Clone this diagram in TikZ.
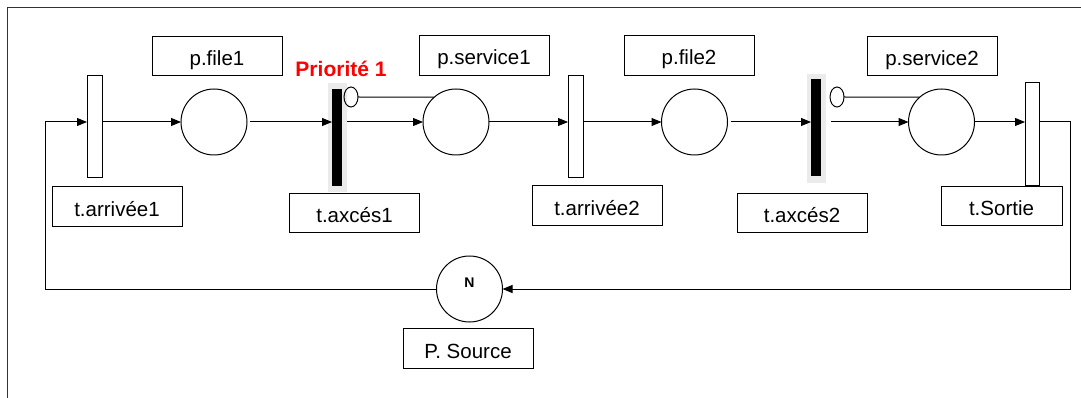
\documentclass[tikz,border=0pt]{standalone}
\usepackage{fontspec}
\setmainfont{Liberation Sans}
\usetikzlibrary{arrows.meta,shapes.geometric}
\begin{document}
\begin{tikzpicture}[x=1pt,y=-1pt,
  line width=1pt,
  every node/.style={inner sep=0pt, outer sep=0pt},
  lbl/.style={draw, rectangle, minimum width=130pt, minimum height=39.5pt,
    font=\fontsize{20.5}{24}\selectfont, text height=19pt, text depth=0pt},
  place/.style={draw, circle, minimum size=66pt},
  trans/.style={draw, fill=white, rectangle, minimum width=15pt, minimum height=102pt},
  prio/.style={fill=black, rectangle, minimum width=10pt, minimum height=97pt},
  glow/.style={fill=black!8, rectangle, minimum width=19pt, minimum height=109pt},
  inhib/.style={draw, ellipse, minimum width=14pt, minimum height=20pt},
  arc/.style={-{Triangle[length=10pt,width=8pt]}},
]
\useasboundingbox (0,0) rectangle (1081,398);

% frame
\draw[black!80] (7,398) -- (7,8) -- (1081,8);

% transitions
\node[trans] (t1) at (94.5,127) {};
\node[glow] (gl1) at (337.5,137.5) {};
\node[prio] (ta1) at (337,137.5) {};
\node[trans] (t2) at (575.5,127) {};
\node[glow] (gl2) at (816.5,128.5) {};
\node[prio] (ta2) at (816,127.5) {};
\node[trans, minimum width=14pt, minimum height=103pt] (ts) at (1032,134.5) {};

% places
\node[place] (pf1) at (214,122) {};
\node[place] (ps1) at (456,122) {};
\node[place] (pf2) at (694.5,122) {};
\node[place] (ps2) at (941.5,122) {};
\node[place] (src) at (469.5,289) {};
\node[anchor=base, font=\bfseries\fontsize{14}{16}\selectfont] (tok) at (469.5,287) {N};

% inhibitor circles
\node[inhib] (in1) at (351,97) {};
\node[inhib] (in2) at (837,97) {};

% labels
\node[lbl] (Lpf1) at (217,56) {p.file1};
\node[lbl] (Lps1) at (484,55.5) {p.service1};
\node[lbl] (Lpf2) at (689,55.5) {p.file2};
\node[lbl] (Lps2) at (932,56) {p.service2};
\node[lbl] (Lt1) at (117,206.5) {t.arrivée1};
\node[lbl] (Lta1) at (354.5,213) {t.axcés1};
\node[lbl] (Lt2) at (597,205.5) {t.arrivée2};
\node[lbl] (Lta2) at (802,213) {t.axcés2};
\node[lbl, minimum width=121pt] (Lts) at (1001.5,206) {t.Sortie};
\node[lbl] (Lsrc) at (468,348.5) {P. Source};
\node[anchor=base, text=red, font=\bfseries\fontsize{21}{24}\selectfont] (pr) at (341,77) {Priorité 1};

% arcs
\coordinate (cl) at (45,122);
\coordinate (cr) at (1070,122);
\draw[arc] (src.west) -| (cl) -- (t1.west |- cl);
\draw[arc] (t1.east |- pf1) -- (pf1.west);
\draw[arc] ([xshift=3pt]pf1.east) -- (ta1.west |- pf1);
\draw[arc] (gl1.east |- ps1) -- (ps1.west);
\draw (in1.east) -- (ps1.131);
\draw[arc] (ps1.east) -- (t2.west |- ps1);
\draw[arc] (t2.east |- pf2) -- (pf2.west);
\draw[arc] ([xshift=3pt]pf2.east) -- (ta2.west |- pf2);
\draw[arc] ([xshift=5pt]gl2.east |- ps2) -- (ps2.west);
\draw (in2.east) -- (ps2.131);
\draw[arc] (ps2.east) -- (ts.west |- ps2);
\draw[arc] (ts.east |- ps2) -- (cr) |- (src.east);
\end{tikzpicture}
\end{document}
